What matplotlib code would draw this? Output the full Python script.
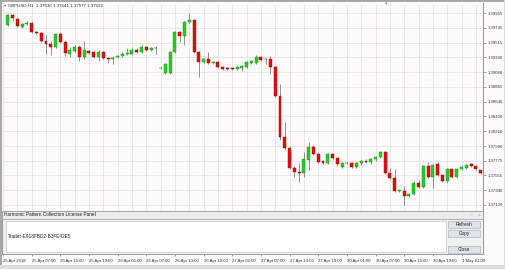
import matplotlib
matplotlib.use('Agg')
import matplotlib.pyplot as plt
from matplotlib.patches import Rectangle
import numpy as np

plt.rcParams['font.family'] = ['Liberation Sans', 'DejaVu Sans']

# ---------------- data (GBPUSD H1) ----------------
opens = [1.39778, 1.39925, 1.39866, 1.39748, 1.39792, 1.39807, 1.39674, 1.39659, 1.39541, 1.39497,
         1.39453, 1.39645, 1.39527, 1.39349, 1.39394, 1.39453, 1.39305, 1.39394, 1.39379, 1.39305,
         1.39379, 1.39290, 1.39276, 1.39305, 1.39320, 1.39349, 1.39349, 1.39408, 1.39379, 1.39453,
         1.39408, 1.39438, 1.39143, 1.39069, 1.39069, 1.39379, 1.39674, 1.39615, 1.39822, 1.39852,
         1.39379, 1.39231, 1.39276, 1.39216, 1.39231, 1.39157, 1.39143, 1.39143, 1.39128, 1.39143,
         1.39157, 1.39216, 1.39216, 1.39305, 1.39276, 1.39276, 1.39157, 1.38729, 1.38124, 1.37961,
         1.37666, 1.37607, 1.37592, 1.37784, 1.37976, 1.37872, 1.37769, 1.37740, 1.37872, 1.37813,
         1.37680, 1.37740, 1.37740, 1.37680, 1.37740, 1.37769, 1.37754, 1.37799, 1.37828, 1.37902,
         1.37592, 1.37518, 1.37326, 1.37326, 1.37252, 1.37282, 1.37444, 1.37385, 1.37695, 1.37533,
         1.37725, 1.37562, 1.37474, 1.37651, 1.37533, 1.37651, 1.37666, 1.37725, 1.37695, 1.37636]
highs = [1.39940, 1.39940, 1.39881, 1.39807, 1.39837, 1.39822, 1.39689, 1.39674, 1.39630, 1.39541,
         1.39659, 1.39674, 1.39541, 1.39453, 1.39482, 1.39482, 1.39541, 1.39408, 1.39394, 1.39408,
         1.39394, 1.39305, 1.39320, 1.39335, 1.39379, 1.39438, 1.39453, 1.39438, 1.39482, 1.39468,
         1.39453, 1.39468, 1.39157, 1.39216, 1.39394, 1.39689, 1.39689, 1.39837, 1.39955, 1.39866,
         1.39394, 1.39290, 1.39379, 1.39246, 1.39246, 1.39172, 1.39157, 1.39157, 1.39172, 1.39187,
         1.39246, 1.39261, 1.39335, 1.39320, 1.39290, 1.39320, 1.39172, 1.38906, 1.38345, 1.37991,
         1.37695, 1.37740, 1.37902, 1.38050, 1.38005, 1.37887, 1.37784, 1.37887, 1.37887, 1.37828,
         1.37754, 1.37754, 1.37754, 1.37754, 1.37784, 1.37799, 1.37813, 1.37843, 1.37917, 1.37917,
         1.37666, 1.37651, 1.37356, 1.37400, 1.37296, 1.37474, 1.37488, 1.37710, 1.37754, 1.37725,
         1.37754, 1.37577, 1.37666, 1.37666, 1.37666, 1.37695, 1.37725, 1.37740, 1.37710, 1.37641]
lows = [1.39763, 1.39837, 1.39748, 1.39733, 1.39778, 1.39659, 1.39645, 1.39527, 1.39349, 1.39335,
        1.39438, 1.39512, 1.39320, 1.39305, 1.39379, 1.39246, 1.39276, 1.39349, 1.39290, 1.39246,
        1.39276, 1.39216, 1.39202, 1.39290, 1.39305, 1.39335, 1.39335, 1.39364, 1.39364, 1.39394,
        1.39394, 1.39349, 1.39128, 1.39054, 1.39054, 1.39364, 1.39527, 1.39482, 1.39807, 1.39364,
        1.39010, 1.39216, 1.39202, 1.39202, 1.39143, 1.39113, 1.39113, 1.39113, 1.39113, 1.39098,
        1.39143, 1.39202, 1.39202, 1.39246, 1.39202, 1.39054, 1.38714, 1.38079, 1.37932, 1.37651,
        1.37533, 1.37459, 1.37533, 1.37636, 1.37858, 1.37740, 1.37725, 1.37725, 1.37799, 1.37695,
        1.37666, 1.37725, 1.37666, 1.37666, 1.37710, 1.37740, 1.37725, 1.37769, 1.37813, 1.37577,
        1.37503, 1.37311, 1.37311, 1.37119, 1.37237, 1.37267, 1.37370, 1.37370, 1.37518, 1.37370,
        1.37548, 1.37459, 1.37444, 1.37518, 1.37518, 1.37636, 1.37651, 1.37680, 1.37636, 1.37577]
closes = [1.39925, 1.39881, 1.39763, 1.39792, 1.39807, 1.39674, 1.39659, 1.39541, 1.39497, 1.39453,
          1.39645, 1.39527, 1.39364, 1.39408, 1.39453, 1.39305, 1.39408, 1.39364, 1.39305, 1.39379,
          1.39290, 1.39276, 1.39290, 1.39320, 1.39349, 1.39364, 1.39408, 1.39379, 1.39453, 1.39408,
          1.39438, 1.39434, 1.39140, 1.39202, 1.39379, 1.39674, 1.39615, 1.39822, 1.39852, 1.39379,
          1.39231, 1.39276, 1.39216, 1.39231, 1.39157, 1.39128, 1.39128, 1.39128, 1.39157, 1.39172,
          1.39231, 1.39246, 1.39305, 1.39261, 1.39272, 1.39157, 1.38729, 1.38124, 1.37961, 1.37666,
          1.37607, 1.37592, 1.37799, 1.37976, 1.37872, 1.37754, 1.37740, 1.37872, 1.37813, 1.37725,
          1.37740, 1.37733, 1.37680, 1.37740, 1.37769, 1.37754, 1.37799, 1.37828, 1.37902, 1.37592,
          1.37518, 1.37326, 1.37341, 1.37252, 1.37282, 1.37444, 1.37385, 1.37695, 1.37533, 1.37710,
          1.37562, 1.37474, 1.37651, 1.37533, 1.37651, 1.37680, 1.37710, 1.37695, 1.37651, 1.37592]

price_ticks = [1.39955, 1.39735, 1.39515, 1.39300, 1.39080, 1.38865, 1.38645,
               1.38430, 1.38210, 1.37990, 1.37775, 1.37555, 1.37340, 1.37120]
time_labels = ["25 Apr 2018", "25 Apr 07:00", "25 Apr 13:00", "25 Apr 19:00", "26 Apr 01:00",
               "26 Apr 07:00", "26 Apr 13:00", "26 Apr 19:00", "27 Apr 01:00", "27 Apr 07:00",
               "27 Apr 13:00", "27 Apr 19:00", "30 Apr 01:00", "30 Apr 07:00", "30 Apr 13:00",
               "30 Apr 19:00", "1 May 01:00"]
symbol = "GBPUSD,H1"
panel_title = "Harmonic Pattern Collection License Panel"
license_text = "Trader-E918FBD2-B3FE42E5"
buttons = ["Refresh", "Copy", "Close"]

# ---------------- figure ----------------
W, H = 506, 269
fig = plt.figure(figsize=(W / 100, H / 100), dpi=100)
bg = '#fcfafa'
fig.patch.set_facecolor(bg)

ax = fig.add_axes([3 / W, 1 - 253 / H, 480 / W, 250 / H])
ax.set_facecolor(bg)
n = len(opens)
x = np.arange(n)
o = np.array(opens); c = np.array(closes); hi = np.array(highs); lo = np.array(lows)
up = c >= o

ax.vlines(x, lo, hi, color='#6a6a6a', lw=0.5, zorder=2)
bot = np.minimum(o, c)
hgt = np.maximum(np.abs(c - o), 0.000008)
ax.bar(x[up], hgt[up], bottom=bot[up], width=0.62, color='#22d022',
       edgecolor='#1a8f1a', lw=0.3, zorder=3)
ax.bar(x[~up], hgt[~up], bottom=bot[~up], width=0.62, color='#e01010',
       edgecolor='#9a0000', lw=0.3, zorder=3)

ax.set_xlim(-0.92, 99.5)
ax.set_ylim(1.364102, 1.401027)

# grid
for gx in np.arange(-1, n, 3):
    ax.axvline(gx, color='#cfcfcf', lw=0.6, ls=(0, (1.2, 1.2)), zorder=1)
for gy in price_ticks:
    ax.axhline(gy, color='#cfcfcf', lw=0.6, ls=(0, (1.2, 1.2)), zorder=1)

ax.yaxis.tick_right()
ax.set_yticks(price_ticks)
ax.set_yticklabels([f"{p:.5f}" for p in price_ticks])
ax.tick_params(axis='y', labelsize=3.1, colors='#555555', length=2, width=0.4, pad=1.5,
               labelcolor='#333333')
tick_pos = [-1 + 6 * k for k in range(len(time_labels))]
ax.set_xticks(tick_pos)
ax.set_xticklabels(time_labels, ha='left')
ax.tick_params(axis='x', labelsize=3.1, colors='#555555', length=2, width=0.4, pad=2,
               labelcolor='#333333')
for s in ['left', 'top', 'bottom']:
    ax.spines[s].set_visible(False)
ax.spines['right'].set_color('#9a9a9a')
ax.spines['right'].set_linewidth(0.8)

# ---------------- overlay (frame, title, panel) ----------------
ov = fig.add_axes([0, 0, 1, 1], zorder=5)
ov.set_xlim(0, W); ov.set_ylim(H, 0); ov.axis('off')
ov.patch.set_alpha(0)

# outer frame
ov.add_patch(Rectangle((0, 0), 2.5, H, color='#a8a8a8', lw=0))
ov.add_patch(Rectangle((0, 0), W, 2.2, color='#a8a8a8', lw=0))
ov.add_patch(Rectangle((0, 264.5), W, 4.5, color='#dcdcdc', lw=0))
ov.add_patch(Rectangle((504, 0), 2, H, color='#dcdcdc', lw=0))
ov.plot([2.5, 483], [253.5, 253.5], color='#a0a0a0', lw=0.6)

title = f"{symbol}  {opens[-1]:.5f} {highs[-1]:.5f} {lows[-1]:.5f} {closes[-1]:.5f}"
ov.text(3.5, 5.5, "▾", fontsize=3, color='#555555', va='center', family='DejaVu Sans')
ov.text(8, 5.5, title, fontsize=3.2, color='#333333', va='center')
ov.text(386, 3.5, "▾", fontsize=3.5, color='#7a8aa0', va='center', ha='center',
        family='DejaVu Sans')

# license panel
ov.add_patch(Rectangle((2.5, 211), 480.5, 42.5, facecolor='#f0f0f0', edgecolor='#9a9a9a', lw=0.7))
ov.add_patch(Rectangle((2.5, 211), 480.5, 7.5, facecolor='#ebebeb', edgecolor='#9a9a9a', lw=0.5))
ov.text(4, 214.8, panel_title, fontsize=3.4, color='#202020', va='center')
ov.text(472, 214.8, "–", fontsize=3, color='#888888', va='center', ha='center')
ov.text(478.5, 214.8, "×", fontsize=3, color='#888888', va='center', ha='center')
ov.add_patch(Rectangle((6, 221), 440, 31, facecolor='white', edgecolor='#c4c4c4', lw=0.5))
ov.text(8, 236.5, license_text, fontsize=3.4, color='#202020', va='center')
for label, (y0, y1) in zip(buttons, [(221, 228), (230, 237), (246, 253)]):
    ov.add_patch(Rectangle((448, y0), 32, y1 - y0, facecolor='#dfe3ea', edgecolor='#b5b5b5', lw=0.5))
    ov.text(464, (y0 + y1) / 2, label, fontsize=3.4, color='#202020', va='center', ha='center')

fig.savefig('out.png', dpi=100, facecolor=fig.get_facecolor())
